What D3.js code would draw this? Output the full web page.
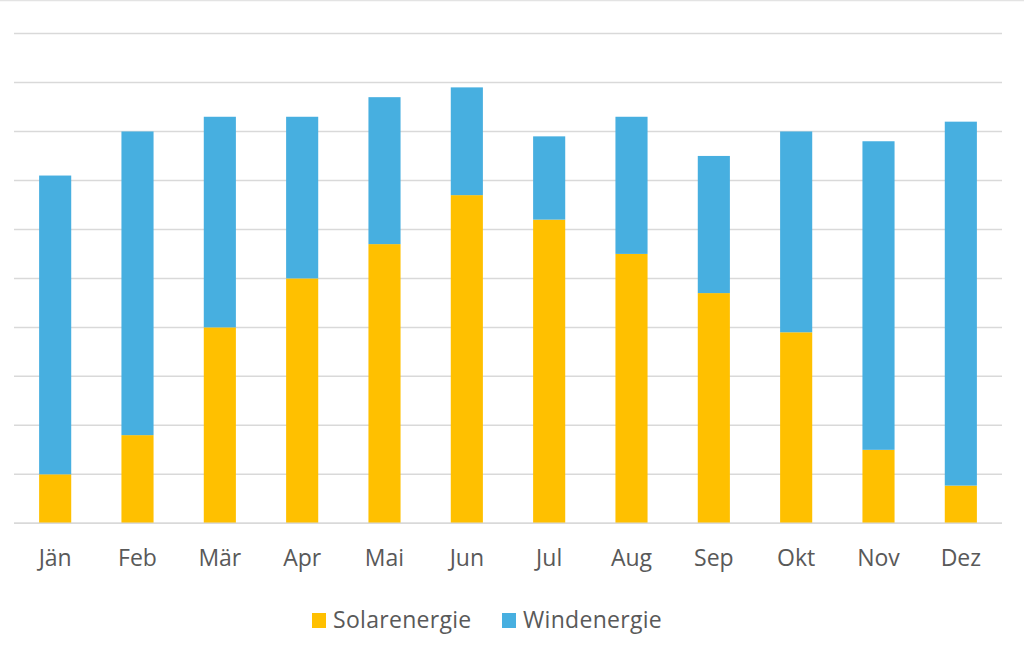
<!DOCTYPE html>
<html>
<head>
<meta charset="utf-8">
<script src="https://cdn.jsdelivr.net/npm/d3@7"></script>
<style>
  body { margin: 0; background: #fff; }
  svg { display: block; }
</style>
</head>
<body>
<svg width="1024" height="655"></svg>
<script>
const months = ["Jän", "Feb", "Mär", "Apr", "Mai", "Jun", "Jul", "Aug", "Sep", "Okt", "Nov", "Dez"];
const solar = [1.0, 1.8, 4.0, 5.0, 5.7, 6.7, 6.2, 5.5, 4.7, 3.9, 1.5, 0.77];
const wind = [6.1, 6.2, 4.3, 3.3, 3.0, 2.2, 1.7, 2.8, 2.8, 4.1, 6.3, 7.43];
const seriesNames = ["Solarenergie", "Windenergie"];
const seriesColors = ["#FFC000", "#47AFE0"];
const gridValues = [0, 1, 2, 3, 4, 5, 6, 7, 8, 9, 10];

const svg = d3.select("svg");
const font = "'Open Sans', sans-serif";

const plotLeft = 14, plotRight = 1002, plotTop = 33.5, plotBottom = 523.3;

const x = d3.scaleBand()
  .domain(months)
  .range([plotLeft, plotRight])
  .paddingInner(0.61)
  .paddingOuter(0.305);

const y = d3.scaleLinear()
  .domain([0, 10])
  .range([plotBottom, plotTop]);

// top border line
svg.append("line")
  .attr("x1", 0).attr("x2", 1024)
  .attr("y1", 0.5).attr("y2", 0.5)
  .style("stroke", "#e3e3e3")
  .style("stroke-width", 1.5);

// gridlines
svg.append("g")
  .selectAll("line")
  .data(gridValues)
  .join("line")
  .attr("x1", plotLeft).attr("x2", plotRight)
  .attr("y1", d => y(d)).attr("y2", d => y(d))
  .style("stroke", "#d9d9d9")
  .style("stroke-width", 1.5);

const rows = months.map((m, i) => ({ month: m, Solarenergie: solar[i], Windenergie: wind[i] }));
const stacked = d3.stack().keys(seriesNames)(rows);

svg.append("g")
  .selectAll("g")
  .data(stacked)
  .join("g")
  .style("fill", (d, i) => seriesColors[i])
  .selectAll("rect")
  .data(d => d)
  .join("rect")
  .attr("x", d => x(d.data.month))
  .attr("width", x.bandwidth())
  .attr("y", d => y(d[1]))
  .attr("height", d => y(d[0]) - y(d[1]));

// baseline on top of bars
svg.append("line")
  .attr("x1", plotLeft).attr("x2", plotRight)
  .attr("y1", y(0)).attr("y2", y(0))
  .style("stroke", "#d9d9d9")
  .style("stroke-width", 1.5);

// month labels
const xAxis = svg.append("g")
  .attr("transform", `translate(0,${y(0)})`)
  .call(d3.axisBottom(x).tickSize(0).tickPadding(26));
xAxis.select(".domain").remove();
xAxis.selectAll("text")
  .style("font-family", font)
  .style("font-size", "23px")
  .style("fill", "#595959");

// legend
const legendItems = [
  { name: seriesNames[0], color: seriesColors[0], x: 312 },
  { name: seriesNames[1], color: seriesColors[1], x: 502 }
];
const legend = svg.append("g");
legendItems.forEach(item => {
  legend.append("rect")
    .attr("x", item.x).attr("y", 613)
    .attr("width", 14).attr("height", 15)
    .style("fill", item.color);
  legend.append("text")
    .attr("x", item.x + 21).attr("y", 628)
    .text(item.name)
    .style("font-family", font)
    .style("font-size", "23px")
    .style("letter-spacing", "0.3px")
    .style("fill", "#595959");
});
</script>
</body>
</html>
